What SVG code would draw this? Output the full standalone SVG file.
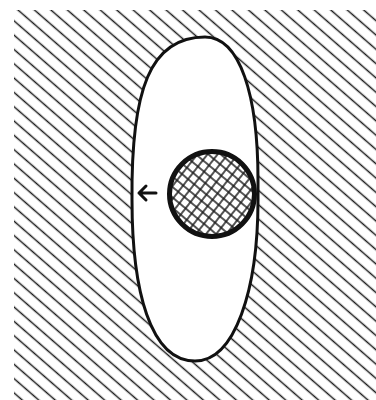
<svg xmlns="http://www.w3.org/2000/svg" width="376" height="400" viewBox="0 0 376 400">
  <defs>
    <style>
      .hatch { stroke: #1a1a1a; stroke-width: 1.6; }
      .xhatch { stroke: #1a1a1a; stroke-width: 1.4; }
      .outline { fill: #ffffff; stroke: #111111; stroke-width: 3; }
      .nucleus-ring { fill: none; stroke: #111111; stroke-width: 5; }
      .arrow { fill: none; stroke: #111111; stroke-width: 3; stroke-linecap: round; stroke-linejoin: round; }
    </style>
    <pattern id="bgHatch" patternUnits="userSpaceOnUse" width="40" height="10.8" patternTransform="translate(18,10) rotate(41) translate(0,-5.4)">
      <line class="hatch" x1="-5" y1="5.4" x2="45" y2="5.4"/>
    </pattern>
    <pattern id="xA" patternUnits="userSpaceOnUse" width="40" height="8" patternTransform="translate(212,194) rotate(40)">
      <line class="xhatch" x1="-5" y1="4" x2="45" y2="4"/>
    </pattern>
    <pattern id="xB" patternUnits="userSpaceOnUse" width="40" height="8" patternTransform="translate(212,194) rotate(-52)">
      <line class="xhatch" x1="-5" y1="4" x2="45" y2="4"/>
    </pattern>
  </defs>

  <rect width="376" height="400" fill="#ffffff"/>

  <g id="background">
    <rect x="14" y="10" width="362" height="390" fill="url(#bgHatch)"/>
  </g>

  <g id="cell">
    <path class="outline" d="M 205 37 C 240 37, 258 95, 258 180 L 258 200 C 258 290, 235 361, 195 361 C 150 361, 132 290, 132 200 C 131 90, 150 37, 205 37 Z"/>
  </g>

  <g id="nucleus">
    <circle cx="212" cy="194" r="43" fill="#ffffff"/>
    <circle cx="212" cy="194" r="43" fill="url(#xA)"/>
    <circle cx="212" cy="194" r="43" fill="url(#xB)"/>
    <circle class="nucleus-ring" cx="212" cy="194" r="42.5"/>
  </g>

  <g id="connectors">
    <path class="arrow" d="M 156 193 L 139 193 M 146 186 L 139 193 L 146 200"/>
  </g>
</svg>
